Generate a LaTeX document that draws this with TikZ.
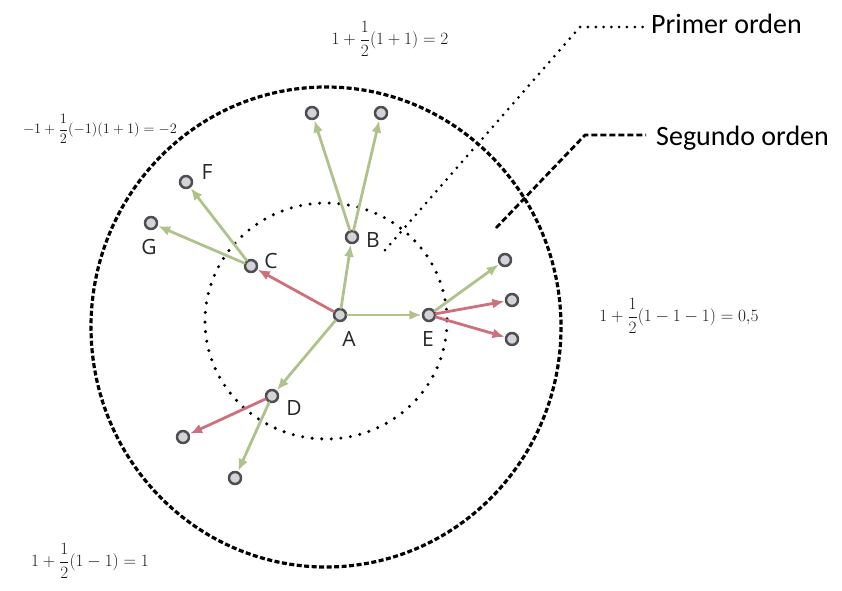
\documentclass[tikz,border=0pt]{standalone}
\usepackage{fontspec}
\usepackage{amsmath}
\newfontfamily\tagfont{Open Sans}
\newfontfamily\notefont{Carlito}
\usetikzlibrary{arrows.meta}
\definecolor{edgegreen}{RGB}{176,194,140}
\definecolor{edgered}{RGB}{206,112,124}
\definecolor{nodegray}{RGB}{212,212,216}
\definecolor{rimgray}{RGB}{78,78,82}
\begin{document}
\begin{tikzpicture}[x=1pt, y=-1pt, line cap=round, line join=round,
    vertex/.style={circle, draw=rimgray, fill=nodegray, line width=2.5pt, minimum size=12pt, inner sep=0pt},
    tag/.style={inner sep=0pt, text=black!85, font=\tagfont\fontsize{21}{21}\selectfont},
    plusedge/.style={draw=edgegreen, line width=2.8pt, -{Latex[length=12pt,width=10pt]}, shorten >=0.5pt},
    minusedge/.style={plusedge, draw=edgered},
    formula/.style={inner sep=0pt, text=black!90},
    note/.style={inner sep=0pt, font=\notefont\fontsize{28}{28}\selectfont}]
  \useasboundingbox (0,0) rectangle (842,590);
  % ordenes
  \draw[line width=3.2pt, dash pattern=on 5pt off 2.5pt, line cap=butt] (326,327) circle [x radius=235, y radius=240];
  \draw[line width=3.4pt, dash pattern=on 0pt off 9.6pt] (326,321) circle [x radius=121, y radius=118];
  % vertices
  \node[vertex] (A) at (340,315) {};
  \node[vertex] (B) at (352,237) {};
  \node[vertex] (C) at (251,266) {};
  \node[vertex] (D) at (272,396) {};
  \node[vertex] (E) at (429,315) {};
  \node[vertex] (F) at (186,182) {};
  \node[vertex] (G) at (151,223) {};
  \node[vertex] (b1) at (312,113) {};
  \node[vertex] (b2) at (381,113) {};
  \node[vertex] (e1) at (505,260) {};
  \node[vertex] (e2) at (512,300) {};
  \node[vertex] (e3) at (512,339) {};
  \node[vertex] (d1) at (183,437) {};
  \node[vertex] (d2) at (235,478) {};
  \node[tag] (tA) at (349,339) {A};
  \node[tag] (tB) at (373,240) {B};
  \node[tag] (tC) at (271,261) {C};
  \node[tag] (tD) at (294,408) {D};
  \node[tag] (tE) at (428,339) {E};
  \node[tag] (tF) at (207,172) {F};
  \node[tag] (tG) at (149,247) {G};
  % aristas
  \draw[plusedge] (A) -- (B);
  \draw[minusedge] (A) -- (C);
  \draw[plusedge] (A) -- (E);
  \draw[plusedge] (A) -- (D);
  \draw[plusedge] (B) -- (b1);
  \draw[plusedge] (B) -- (b2);
  \draw[plusedge] (C) -- (F);
  \draw[plusedge] (C) -- (G);
  \draw[plusedge] (E) -- (e1);
  \draw[minusedge] (E) -- (e2);
  \draw[minusedge] (E) -- (e3);
  \draw[minusedge] (D) -- (d1);
  \draw[plusedge] (D) -- (d2);
  % valores
  \node[formula, font=\fontsize{17.5}{20}\selectfont] (vtop) at (390,39) {$1+\dfrac{1}{2}(1+1)=2$};
  \node[formula, font=\fontsize{13.4}{16}\selectfont] (vleft) at (100,129) {$-1+\dfrac{1}{2}(-1)(1+1)=-2$};
  \node[formula, font=\fontsize{16.2}{19}\selectfont] (vright) at (679,316) {$1+\dfrac{1}{2}(1-1-1)=0{,}5$};
  \node[formula, font=\fontsize{16.8}{19}\selectfont] (vbottom) at (90,561) {$1+\dfrac{1}{2}(1-1)=1$};
  % leyenda
  \node[note, anchor=west] (primer) at (651,24) {Primer orden};
  \node[note, anchor=west] (segundo) at (656,138) {Segundo orden};
  \coordinate (p0) at (385,250);
  \coordinate (p1) at (580,27);
  \coordinate (s0) at (496,228);
  \coordinate (s1) at (585,135);
  \draw[line width=3pt, dash pattern=on 0pt off 7.8pt] (p0) -- (p1) -- ([xshift=-8pt]primer.west |- p1);
  \draw[line width=2.8pt, dash pattern=on 6pt off 3pt, line cap=butt] (s0) -- (s1) -- ([xshift=-10pt]segundo.west |- s1);
\end{tikzpicture}
\end{document}
